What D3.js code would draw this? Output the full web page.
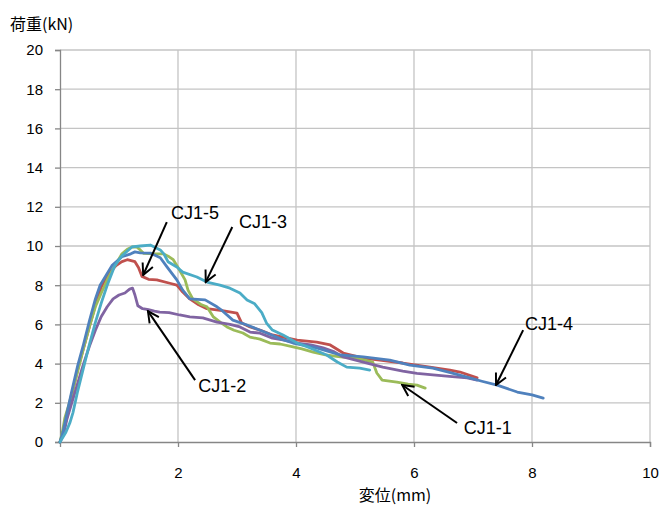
<!DOCTYPE html>
<html>
<head>
<meta charset="utf-8">
<script src="https://cdn.jsdelivr.net/npm/d3@7"></script>
<style>
  html, body { margin: 0; padding: 0; background: #fff; }
  svg { display: block; font-family: "Liberation Sans", "Noto Sans CJK JP", sans-serif; }
</style>
</head>
<body>
<svg id="chart" width="663" height="509"></svg>
<script>
// Load–displacement curves, displacement (mm) vs load (kN)
const seriesNames = ["CJ1-5", "CJ1-1", "CJ1-2", "CJ1-4", "CJ1-3"];
const seriesColors = ["#C0504D", "#9BBB59", "#8064A2", "#4F81BD", "#4BACC6"];

const cj1_1 = [[0,0],[0.04,0.5],[0.08,1.2],[0.15,1.9],[0.22,2.7],[0.3,3.6],[0.4,4.8],[0.5,5.9],[0.6,6.9],[0.7,7.6],[0.82,8.4],[0.95,9.1],[1.05,9.6],[1.15,9.85],[1.22,9.95],[1.3,9.95],[1.36,9.8],[1.42,9.62],[1.6,9.6],[1.75,9.6],[1.85,9.45],[1.92,9.3],[2.0,8.9],[2.12,8.27],[2.17,7.75],[2.25,7.3],[2.4,7.0],[2.49,6.9],[2.6,6.38],[2.72,6.1],[2.83,5.87],[2.95,5.7],[3.1,5.56],[3.22,5.35],[3.39,5.25],[3.56,5.05],[3.73,5.0],[3.95,4.85],[4.1,4.75],[4.29,4.59],[4.5,4.45],[4.75,4.34],[5.03,4.28],[5.2,4.15],[5.3,4.08],[5.37,3.52],[5.46,3.16],[5.71,3.06],[5.9,2.95],[6.05,2.9],[6.19,2.75]];

const cj1_2 = [[0,0],[0.06,0.4],[0.12,1.2],[0.2,2.0],[0.3,3.0],[0.4,4.0],[0.5,4.9],[0.6,5.7],[0.7,6.4],[0.8,6.9],[0.9,7.3],[1.0,7.5],[1.1,7.6],[1.18,7.8],[1.23,7.85],[1.27,7.5],[1.32,6.95],[1.4,6.8],[1.5,6.75],[1.6,6.68],[1.69,6.63],[1.85,6.6],[2.03,6.48],[2.2,6.38],[2.42,6.33],[2.66,6.12],[2.88,6.0],[3.05,5.87],[3.22,5.61],[3.39,5.55],[3.6,5.3],[3.8,5.2],[4.02,5.05],[4.25,4.95],[4.46,4.8],[4.65,4.6],[4.8,4.34],[5.14,4.08],[5.47,3.82],[5.81,3.62],[6.05,3.5],[6.32,3.42],[6.6,3.35],[6.9,3.27],[7.07,3.16]];

const cj1_3 = [[0,0],[0.1,0.5],[0.17,1.0],[0.22,1.5],[0.3,2.6],[0.4,3.8],[0.5,5.0],[0.6,6.1],[0.7,7.1],[0.8,8.0],[0.93,9.0],[1.05,9.5],[1.22,9.95],[1.36,10.0],[1.53,10.05],[1.7,9.8],[1.76,9.6],[1.83,9.2],[1.98,8.93],[2.08,8.67],[2.32,8.42],[2.49,8.16],[2.71,8.0],[2.88,7.85],[3.05,7.6],[3.17,7.24],[3.3,7.05],[3.42,6.6],[3.5,6.07],[3.6,5.71],[3.78,5.46],[4.02,5.05],[4.24,4.8],[4.52,4.44],[4.7,4.08],[4.86,3.82],[5.08,3.77],[5.25,3.67]];

const cj1_4 = [[0,0],[0.05,0.5],[0.12,1.5],[0.2,2.6],[0.3,3.9],[0.4,5.0],[0.5,6.2],[0.6,7.3],[0.68,8.0],[0.78,8.5],[0.88,9.0],[1.05,9.45],[1.2,9.6],[1.27,9.7],[1.36,9.65],[1.53,9.64],[1.7,9.4],[1.81,8.95],[1.98,8.27],[2.08,7.75],[2.2,7.3],[2.46,7.25],[2.66,6.9],[2.75,6.7],[2.93,6.22],[3.17,5.97],[3.35,5.75],[3.56,5.5],[3.75,5.25],[3.95,5.05],[4.35,4.8],[4.75,4.44],[5.14,4.34],[5.59,4.18],[5.93,3.92],[6.32,3.77],[6.6,3.55],[6.9,3.31],[7.15,3.1],[7.41,2.9],[7.75,2.55],[8.0,2.4],[8.19,2.24]];

const cj1_5 = [[0,0],[0.05,0.4],[0.12,1.3],[0.2,2.4],[0.3,3.7],[0.4,4.8],[0.5,5.9],[0.6,7.0],[0.7,7.9],[0.8,8.5],[0.95,9.0],[1.05,9.2],[1.14,9.3],[1.27,9.2],[1.33,8.9],[1.39,8.45],[1.5,8.3],[1.64,8.27],[1.86,8.1],[1.98,8.0],[2.08,7.65],[2.2,7.3],[2.35,7.0],[2.49,6.8],[2.75,6.7],[3.0,6.58],[3.08,6.07],[3.22,5.87],[3.4,5.7],[3.6,5.46],[4.02,5.2],[4.35,5.1],[4.58,4.95],[4.8,4.54],[5.14,4.28],[5.42,4.18],[5.81,4.03],[6.27,3.82],[6.61,3.67],[6.78,3.57],[7.07,3.27]];

const seriesData = [cj1_5, cj1_1, cj1_2, cj1_4, cj1_3];

const xTicks = [2, 4, 6, 8, 10];
const yTicks = [0, 2, 4, 6, 8, 10, 12, 14, 16, 18, 20];

// Callouts: label text, label centre, arrow tail, arrow tip (data units)
const calloutLabels = ["CJ1-5", "CJ1-3", "CJ1-2", "CJ1-1", "CJ1-4"];
const calloutText = [[2.29, 11.68], [3.44, 11.22], [2.75, 2.86], [7.25, 0.71], [8.29, 6.02]];
const calloutTail = [[1.81, 11.22], [2.92, 10.97], [2.29, 3.16], [6.73, 0.97], [7.85, 5.71]];
const calloutTip = [[1.41, 8.52], [2.47, 8.16], [1.49, 6.68], [5.8, 2.91], [7.39, 2.91]];

const svg = d3.select("#chart");
const x = d3.scaleLinear().domain([0, 10]).range([60, 650]);
const y = d3.scaleLinear().domain([0, 20]).range([442, 50]);

// gridlines
svg.append("g").selectAll("line").data(yTicks.filter(d => d > 0)).join("line")
  .attr("x1", x(0)).attr("x2", x(10))
  .attr("y1", d => y(d)).attr("y2", d => y(d))
  .attr("stroke", "#c4c4c4").attr("stroke-width", 1.3);
svg.append("g").selectAll("line").data(xTicks).join("line")
  .attr("x1", d => x(d)).attr("x2", d => x(d))
  .attr("y1", y(0)).attr("y2", y(20))
  .attr("stroke", "#c4c4c4").attr("stroke-width", 1.3);

// axes
const xAxis = d3.axisBottom(x).tickValues(xTicks).tickSize(5).tickPadding(20);
const yAxis = d3.axisLeft(y).tickValues(yTicks).tickSize(5).tickPadding(12);
const gx = svg.append("g").attr("transform", `translate(0,${y(0)})`).call(xAxis);
const gy = svg.append("g").attr("transform", `translate(${x(0)},0)`).call(yAxis);
[gx, gy].forEach(g => {
  g.select(".domain").attr("stroke", "#868686").attr("stroke-width", 1.3);
  g.selectAll(".tick line").attr("stroke", "#868686").attr("stroke-width", 1.3);
  g.selectAll(".tick text").attr("fill", "#000").style("font-size", "15px")
    .style("font-family", "'Liberation Sans', sans-serif");
});

// curves
const line = d3.line().x(d => x(d[0])).y(d => y(d[1]));
svg.append("g").selectAll("path").data(seriesData).join("path")
  .attr("d", d => line(d))
  .attr("fill", "none")
  .attr("stroke", (d, i) => seriesColors[i])
  .attr("stroke-width", 2.8)
  .attr("stroke-linejoin", "round")
  .attr("stroke-linecap", "round");

// arrow marker
svg.append("defs").append("marker")
  .attr("id", "arrowhead").attr("viewBox", "0 0 10 10")
  .attr("refX", 9).attr("refY", 5)
  .attr("markerWidth", 7).attr("markerHeight", 7)
  .attr("markerUnits", "strokeWidth").attr("orient", "auto")
  .append("path").attr("d", "M1,1 L9,5 L1,9")
  .attr("fill", "none").attr("stroke", "#000").attr("stroke-width", 1.4);

const callouts = svg.append("g");
calloutLabels.forEach((label, i) => {
  callouts.append("line")
    .attr("x1", x(calloutTail[i][0])).attr("y1", y(calloutTail[i][1]))
    .attr("x2", x(calloutTip[i][0])).attr("y2", y(calloutTip[i][1]))
    .attr("stroke", "#000").attr("stroke-width", 2)
    .attr("marker-end", "url(#arrowhead)");
  callouts.append("text")
    .attr("x", x(calloutText[i][0])).attr("y", y(calloutText[i][1]))
    .attr("text-anchor", "middle").attr("dominant-baseline", "central")
    .style("font-size", "18px").text(label);
});

// axis titles
svg.append("text").attr("x", 10).attr("y", 30)
  .style("font-size", "16px").style("font-family", "'Noto Sans CJK JP', sans-serif")
  .text("荷重(kN)");
svg.append("text").attr("x", 395).attr("y", 501).attr("text-anchor", "middle")
  .style("font-size", "16px").style("font-family", "'Noto Sans CJK JP', sans-serif")
  .text("変位(mm)");
</script>
</body>
</html>
